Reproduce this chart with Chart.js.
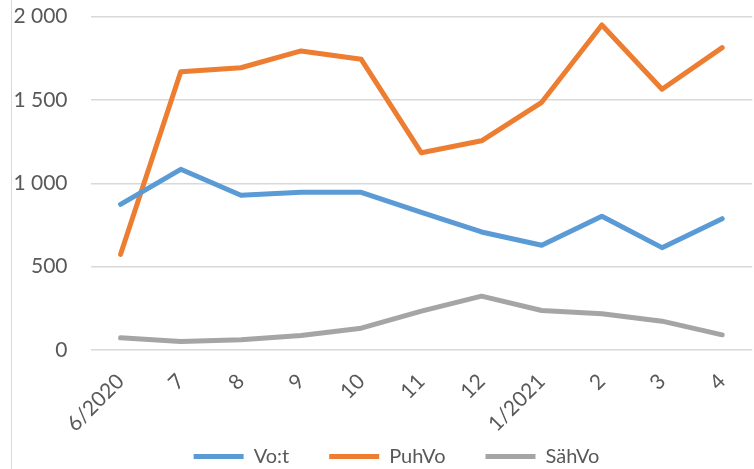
<!DOCTYPE html>
<html lang="fi">
<head>
<meta charset="utf-8">
<title>Vo:t, PuhVo, SähVo</title>
<script src="https://cdn.jsdelivr.net/npm/chart.js@4"></script>
<style>
    body { margin: 0; overflow: hidden; background: #fff; }
    #area { position: absolute; left: 0; top: 0; width: 759px; height: 520px; }
    #moldura { position: absolute; left: 11px; top: 0; width: 1px; height: 469px; background: #d9d9d9; }
</style>
</head>
<body>
<div id="area"><canvas id="graficoConsumo"></canvas></div>
<div id="moldura"></div>
<script>
// Rótulos do eixo X (meses)
const meses = ['6/2020', '7', '8', '9', '10', '11', '12', '1/2021', '2', '3', '4'];

// Valores das séries
const valoresVot = [874, 1084, 928, 946, 946, 825, 708, 628, 802, 614, 788];
const valoresPuhVo = [574, 1669, 1693, 1794, 1744, 1183, 1255, 1486, 1950, 1564, 1814];
const valoresSahVo = [73, 51, 61, 87, 131, 233, 323, 237, 217, 173, 91];

// Marcas do eixo Y
const ticksY = [0, 500, 1000, 1500, 2000];

const corTexto = '#595959';
const corGrade = '#d9d9d9';
const fonte = 'Lato, "Open Sans", sans-serif';

// Formata números com espaço como separador de milhar
function formatarNumero(valor) {
    return String(valor).replace(/\B(?=(\d{3})+(?!\d))/g, ' ');
}

function criarSerie(nome, valores, cor) {
    return {
        label: nome,
        data: valores,
        borderColor: cor,
        backgroundColor: cor,
        borderWidth: 5,
        borderCapStyle: 'round',
        borderJoinStyle: 'round',
        pointRadius: 0,
        pointHoverRadius: 0,
        tension: 0
    };
}

// Move a legenda para a posição do original (a legenda do Excel fica mais perto do eixo)
const ajusteLegenda = {
    id: 'ajusteLegenda',
    afterLayout(chart) {
        const legenda = chart.legend;
        const dy = -43.5;
        const dx = 17;
        legenda.top += dy;
        legenda.bottom += dy;
        legenda.left += dx;
        legenda.right += dx;
    }
};

const ctx = document.getElementById('graficoConsumo').getContext('2d');

const configuracao = {
    type: 'line',
    data: {
        labels: meses,
        datasets: [
            criarSerie('Vo:t', valoresVot, '#5b9bd5'),
            criarSerie('PuhVo', valoresPuhVo, '#ed7d31'),
            criarSerie('SähVo', valoresSahVo, '#a5a5a5')
        ]
    },
    options: {
        responsive: true,
        maintainAspectRatio: false,
        animation: false,
        layout: {
            padding: { top: 0, left: 0, right: 0, bottom: 0 }
        },
        scales: {
            x: {
                offset: true,
                grid: { display: false, drawTicks: false },
                border: { display: false },
                ticks: {
                    autoSkip: false,
                    minRotation: 45,
                    maxRotation: 45,
                    padding: 19,
                    color: corTexto,
                    font: { family: fonte, size: 21 }
                },
                afterFit: (escala) => { escala.height = 100; }
            },
            y: {
                min: 0,
                max: 2000,
                afterBuildTicks: (escala) => {
                    escala.ticks = ticksY.map(v => ({ value: v }));
                },
                // marcas invisíveis só para afastar os rótulos da grade
                grid: { color: corGrade, lineWidth: 1.5, drawTicks: true, tickLength: 19, tickColor: 'rgba(0,0,0,0)' },
                border: { display: false },
                ticks: {
                    padding: 4,
                    color: corTexto,
                    font: { family: fonte, size: 21 },
                    callback: (valor) => formatarNumero(valor)
                },
                afterFit: (escala) => { escala.width = 90.5; }
            }
        },
        plugins: {
            legend: {
                display: true,
                position: 'bottom',
                labels: {
                    usePointStyle: true,
                    pointStyle: 'line',
                    pointStyleWidth: 50,
                    padding: 40,
                    color: corTexto,
                    font: { family: fonte, size: 20 }
                }
            },
            tooltip: { enabled: false }
        }
    },
    plugins: [ajusteLegenda]
};

const graficoConsumo = new Chart(ctx, configuracao);
</script>
</body>
</html>
